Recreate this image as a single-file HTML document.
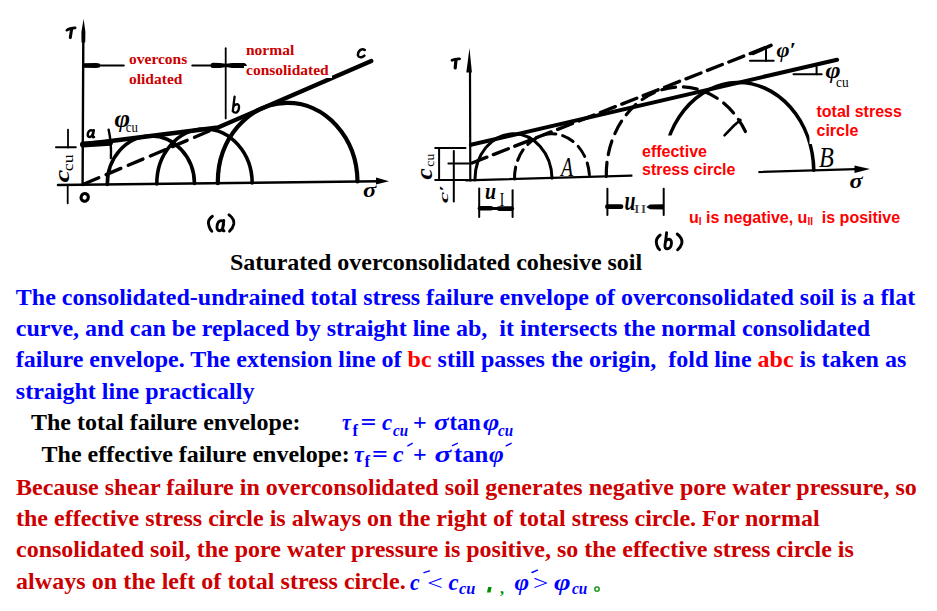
<!DOCTYPE html>
<html><head><meta charset="utf-8">
<style>
html,body{margin:0;padding:0;background:#fff;width:937px;height:611px;overflow:hidden}
svg{display:block}
text{white-space:pre}
.s{font-family:"Liberation Serif",serif;font-weight:bold;font-size:24px}
.b{fill:#0000ff}
.r{fill:#cc0000}
.k{fill:#000}
.rr{fill:#ff0000}
.lbl{font-family:"Liberation Sans",sans-serif;font-weight:bold;font-size:16px;fill:#ff0000}
.dr{font-family:"Liberation Serif",serif;font-weight:bold;font-size:15.5px;fill:#cc0000}
.i{font-style:italic}
</style></head><body>
<svg width="937" height="611" viewBox="0 0 937 611">
<!-- DIAGRAM A -->
<g id="diagA" fill="none" stroke="#000" stroke-linecap="round" stroke-linejoin="round">
  <!-- y axis -->
  <line x1="83.3" y1="40" x2="82.6" y2="185" stroke-width="2.4"/>
  <polygon points="83.6,18.8 81.4,32 81.5,42.5 85.2,42.5 85.4,32" fill="#000" stroke="none"/>
  <!-- sigma axis -->
  <line x1="58" y1="185" x2="380" y2="181.3" stroke-width="2.5"/>
  <polygon points="389,181.2 376,177.6 376,184.6" fill="#000" stroke="none"/>
  <!-- c_cu marker -->
  <line x1="68" y1="129.6" x2="68" y2="147.5" stroke-width="1.8"/>
  <line x1="56" y1="147.3" x2="75.8" y2="147.3" stroke-width="2"/>
  <line x1="67.7" y1="185" x2="67.7" y2="203.3" stroke-width="1.8"/>
  <!-- dimension line -->
  <line x1="83" y1="65.5" x2="123.7" y2="65.5" stroke-width="2.2"/>
  <polygon points="83,63.2 96,62.9 99.5,63.6 100.5,65.5 99.5,67.5 96,68.1 83,67.8" fill="#000" stroke="none"/>
  <line x1="192.3" y1="65.4" x2="245.7" y2="65.4" stroke-width="2"/>
  <polygon points="226,63.8 220,63 213,62.8 211,63.6 210.5,65.4 211,67.4 213,68.1 220,68 226,67" fill="#000" stroke="none"/>
  <polygon points="226,63.8 232,62.9 244.5,62.9 246.2,64.2 246.2,66.8 244.5,68 232,68 226,67" fill="#000" stroke="none"/>
  <line x1="225.7" y1="48.2" x2="225.7" y2="118.4" stroke-width="1.8"/>
  <!-- circles -->
  <path d="M107.3 184.5 A43.6 48 0 0 1 194.5 183.5" stroke-width="3.6"/>
  <path d="M156.8 184 A47.7 54.5 0 0 1 252.2 183" stroke-width="3.6"/>
  <path d="M217.8 183.2 A69.85 79.5 0 0 1 357.5 181.5" stroke-width="4.2"/>
  <!-- envelope ab, bc -->
  <path d="M83 144.5 L218 127.5 L371.3 61" stroke-width="4.3"/>
  <path d="M83 144.5 L110 142.8" stroke-width="6"/>
  <path d="M108.6 129.6 Q111.6 143 110.9 158" stroke-width="2.4"/>
  <!-- dashed extension -->
  <line x1="84" y1="184" x2="214" y2="129" stroke-width="3.4" stroke-dasharray="16 8"/>
</g>
<!-- DIAGRAM B -->
<g id="diagB" fill="none" stroke="#000" stroke-linecap="round" stroke-linejoin="round">
  <!-- y axis -->
  <line x1="470" y1="70" x2="470.3" y2="180.5" stroke-width="2.2"/>
  <polygon points="469.5,48 466.3,72.4 471.9,72.4" fill="#000" stroke="none"/>
  <!-- sigma axis -->
  <line x1="466" y1="180.4" x2="856" y2="169.2" stroke-width="2.2"/>
  <polygon points="870,168.9 854.5,165.5 854.5,173" fill="#000" stroke="none"/>
  <!-- c_cu marker -->
  <line x1="435.2" y1="147.9" x2="465.5" y2="147.9" stroke-width="2"/>
  <line x1="435.2" y1="180.1" x2="467.8" y2="180.1" stroke-width="2"/>
  <line x1="439.1" y1="147.9" x2="439.1" y2="180" stroke-width="2"/>
  <!-- c' marker -->
  <line x1="453.8" y1="151" x2="453.8" y2="201.5" stroke-width="2"/>
  <line x1="448.4" y1="163.4" x2="468.6" y2="163.4" stroke-width="2"/>
  <!-- u_I bracket -->
  <line x1="479.2" y1="188.5" x2="479.2" y2="217" stroke-width="2"/>
  <line x1="512.6" y1="190.2" x2="512.6" y2="217" stroke-width="2"/>
  <line x1="479.2" y1="208.5" x2="512.6" y2="208.5" stroke-width="3"/>
  <path d="M480 208.3 L491 208.3 M499 208.6 L511.5 208.6" stroke-width="4.6"/>
  <!-- u_II bracket -->
  <line x1="607.4" y1="188.8" x2="607.4" y2="215" stroke-width="2"/>
  <line x1="663.7" y1="188.8" x2="663.7" y2="215" stroke-width="2"/>
  <line x1="607.4" y1="206.7" x2="621" y2="206.7" stroke-width="4.8"/>
  <polygon points="646.3,206.9 650,204.6 663.7,204.3 663.7,209.4 650,209.2" fill="#000" stroke="none"/>
  <!-- small total circle A (solid) -->
  <path d="M475 180 A38.5 45.4 0 0 1 552 178.3" stroke-width="3"/>
  <!-- small effective circle (dashed) -->
  <path d="M514.5 179 A37.5 44.3 0 0 1 589.5 177.2" stroke-width="3" stroke-dasharray="12 7"/>
  <!-- large effective circle (dashed) -->
  <path d="M606.3 176.4 A74.3 87.4 0 0 1 754.9 172.1" stroke-width="3.2" stroke-dasharray="14 8"/>
  <!-- large total circle (solid) -->
  <path d="M663.2 174.7 A75.3 90 0 0 1 813.8 170.3" stroke-width="3.6"/>
  <!-- solid envelope -->
  <line x1="470.9" y1="144.8" x2="837.1" y2="59.7" stroke-width="4"/>
  <!-- dashed envelope -->
  <line x1="472" y1="163" x2="771" y2="45.4" stroke-width="3.4" stroke-dasharray="16 7"/>
  <line x1="753" y1="53.3" x2="771" y2="45.4" stroke-width="3.6"/>
  <!-- phi' marker -->
  <line x1="750" y1="60.7" x2="773.7" y2="60.7" stroke-width="2"/>
  <line x1="766" y1="48" x2="766" y2="60.7" stroke-width="2"/>
  <!-- phi_cu marker -->
  <line x1="793.5" y1="74.2" x2="821.7" y2="74.2" stroke-width="2"/>
  <line x1="816.6" y1="67.1" x2="816.6" y2="74.2" stroke-width="2"/>
</g>


<!-- diagram labels -->
<g id="labs" font-family="Liberation Serif" fill="#000">
  <g fill="none" stroke="#000" stroke-linecap="round"><path d="M66.8 30.2 Q69.5 28.2 75.2 27.9" stroke-width="2.6"/><path d="M71.6 29.2 Q71 33 70.3 37.4" stroke-width="3"/></g>
  <g fill="none" stroke="#000" stroke-linecap="round" stroke-width="2.5"><path d="M93.6 131 Q89.5 128.8 88 133 Q87 137.2 89.8 137 Q92.6 136.5 93.4 131.6 M93.8 130.2 L92.6 136.2 Q92.8 137.6 94 137"/></g>
  <text x="114.60" y="127.40" font-size="25.60" font-weight="bold" font-style="italic" transform="translate(114.60,127.40) scale(1.037,1) translate(-114.60,-127.40)">φ</text>
  <text x="125.80" y="132.30" font-size="14.26" font-weight="normal" font-style="normal" transform="translate(125.80,132.30) scale(0.897,1) translate(-125.80,-132.30)">cu</text>
  <g fill="none" stroke="#000" stroke-linecap="round" stroke-width="2.3"><path d="M234.6 96.6 Q233.6 104 232.8 111.2 Q234 113.2 236.8 112.4 Q239.4 110.6 239 106.2 Q238.4 103.4 235.4 104.6 Q233.8 105.4 233.3 107"/></g>
  <g fill="none" stroke="#000" stroke-linecap="round" stroke-width="2.5"><path d="M364.8 50 Q362.8 48.6 360.5 49.8 Q357.6 52 358 55.6 Q358.8 57.6 361.4 57.2 Q363.2 56.8 364.4 55.6"/></g>
  <ellipse cx="84.7" cy="197.4" rx="3.6" ry="3.9" fill="none" stroke="#000" stroke-width="3.1" transform="rotate(20 84.7 197.4)"/>
  <text x="363.00" y="197.50" font-size="21.51" font-weight="bold" font-style="italic" transform="translate(363.00,197.50) scale(1.147,1) translate(-363.00,-197.50)">σ</text>
  <g fill="none" stroke="#000" stroke-linecap="round" stroke-width="2.9"><path d="M212.4 216.3 Q206.8 220 209 226 Q210 229.5 211.8 231.2"/><path d="M229 214.8 Q234.6 219 233.8 224 Q232.8 228.5 229.6 231.2"/><path d="M223.6 221.2 Q219 219.3 217.3 224.5 Q216 230.5 219.6 230.8 Q222.5 230.5 223.6 224.5 M223.8 220.5 L222.6 229.2 Q222.6 231.2 224 230.8"/></g>
  <g fill="none" stroke="#000" stroke-linecap="round"><path d="M452 60.2 Q455 58.6 459.6 58.8" stroke-width="2.8"/><path d="M456 59.6 Q455.6 64 455.2 68" stroke-width="3.2"/></g>
  <text x="485.00" y="199.00" font-size="22.45" font-weight="bold" font-style="italic" transform="translate(485.00,199.00) scale(0.883,1) translate(-485.00,-199.00)">u</text>
  <text x="499.80" y="206.10" font-size="17.95" font-weight="normal" font-style="normal" transform="translate(499.80,206.10) scale(0.747,1) translate(-499.80,-206.10)">I</text>
  <text x="624.40" y="210.50" font-size="28.27" font-weight="bold" font-style="italic" transform="translate(624.40,210.50) scale(0.696,1) translate(-624.40,-210.50)">u</text>
  <text fill="#444" x="633.60" y="213.00" font-size="13.29" font-weight="normal" font-style="normal" transform="translate(633.60,213.00) scale(1.484,1) translate(-633.60,-213.00)">II</text>
  <text x="561.00" y="175.60" font-size="26.29" font-weight="normal" font-style="italic" transform="translate(561.00,175.60) scale(0.751,1) translate(-561.00,-175.60)">A</text>
  <text x="819.00" y="167.00" font-size="28.45" font-weight="normal" font-style="italic" transform="translate(819.00,167.00) scale(0.854,1) translate(-819.00,-167.00)">B</text>
  <text x="849.40" y="187.80" font-size="21.91" font-weight="bold" font-style="italic" transform="translate(849.40,187.80) scale(1.111,1) translate(-849.40,-187.80)">σ</text>
  <text x="776.40" y="56.70" font-size="21.42" font-weight="bold" font-style="italic" transform="translate(776.40,56.70) scale(1.042,1) translate(-776.40,-56.70)">φ′</text>
  <text x="825.60" y="78.40" font-size="22.80" font-weight="bold" font-style="italic" transform="translate(825.60,78.40) scale(1.136,1) translate(-825.60,-78.40)">φ</text>
  <text x="836.00" y="86.60" font-size="15.20" font-weight="normal" font-style="normal" transform="translate(836.00,86.60) scale(0.877,1) translate(-836.00,-86.60)">cu</text>
  <g fill="none" stroke="#000" stroke-linecap="round" stroke-width="2.9"><path d="M660.2 235 Q654.8 239 656.8 245 Q657.8 248.3 659.6 249.6"/><path d="M677.2 234 Q683 238.5 681.8 243.5 Q680.6 247.5 677.6 249.8"/><path d="M666.6 232.6 Q665.8 240 665 245 Q664.5 249 667.5 248.8 Q671.2 248.5 671.5 243 Q671.5 238.5 667.6 239.5 Q666 240.2 665.6 242"/></g>
  <text transform="translate(69.2,182.4) rotate(-90) scale(1,0.703)" font-size="28.72" font-weight="bold" font-style="italic">c</text>
  <text transform="translate(73.1,171.2) rotate(-90) scale(1,0.82)" font-size="17.84" font-weight="normal">cu</text>
  <text transform="translate(432.1,179.6) rotate(-90) scale(1,0.889)" font-size="25.19" font-weight="bold" font-style="italic">c</text>
  <text transform="translate(434.2,166.7) rotate(-90) scale(1,0.958)" font-size="13.72" font-weight="normal">cu</text>
  <text transform="translate(448.2,203.1) rotate(-90) scale(1,0.515)" font-size="25.0" font-weight="bold" font-style="italic">c′</text>
</g>
<!-- white boxes + red labels in diagrams -->
<rect x="632.4" y="135.5" width="126" height="47" fill="#fff"/>
<path d="M740.5 120 L734 125.5 L724.5 135.3" stroke="#000" stroke-width="2.6" fill="none" stroke-linecap="round"/>
<rect x="809.5" y="100" width="96" height="44" fill="#fff"/>
<rect x="244" y="66" width="88" height="12" fill="#fff"/>
<text class="dr" x="129" y="63.5">overcons</text>
<text class="dr" x="129" y="83.6">olidated</text>
<text class="dr" x="246" y="55.1">normal</text>
<text class="dr" x="246" y="74.9">consolidated</text>
<text class="lbl" x="642" y="156.6">effective</text>
<text class="lbl" x="642" y="175.2">stress circle</text>
<text class="lbl" x="816.5" y="117.3">total stress</text>
<text class="lbl" x="816.5" y="136.3">circle</text>
<text class="lbl" x="689" y="223.3">u<tspan font-size="10" dy="2">I</tspan><tspan dy="-2"> is negative, u</tspan><tspan font-size="10" dy="2">II</tspan><tspan dy="-2">  is positive</tspan></text>

<!-- caption -->
<text class="s k" x="230" y="270.4">Saturated overconsolidated cohesive soil</text>

<!-- blue paragraph -->
<text class="s b" x="15.8" y="304.5">The consolidated-undrained total stress failure envelope of overconsolidated soil is a flat</text>
<text class="s b" x="15.8" y="335.7">curve, and can be replaced by straight line ab,  it intersects the normal consolidated</text>
<text class="s b" x="15.8" y="367.2">failure envelope. The extension line of <tspan class="rr">bc</tspan> still passes the origin,  fold line <tspan class="rr">abc</tspan> is taken as</text>
<text class="s b" x="15.8" y="398.5">straight line practically</text>

<text class="s k" x="31" y="430.1">The total failure envelope:</text>
<text class="s k" x="41.6" y="462.1">The effective failure envelope:</text>

<!-- red paragraph -->
<text class="s r" x="16" y="494.6">Because shear failure in overconsolidated soil generates negative pore water pressure, so</text>
<text class="s r" x="16" y="526.1">the effective stress circle is always on the right of total stress circle. For normal</text>
<text class="s r" x="16" y="557.2">consolidated soil, the pore water pressure is positive, so the effective stress circle is</text>
<text class="s r" x="16" y="589.3" textLength="389.8" lengthAdjust="spacing">always on the left of total stress circle.</text>

<!-- formulas -->
<g font-family="Liberation Serif" fill="#0000ff">
  <text x="0" y="0" font-size="24" font-weight="bold" font-style="italic" transform="translate(342.00,430.4) scale(0.833,1)">τ</text>
  <text x="0" y="0" font-size="16" font-weight="bold" font-style="normal" transform="translate(352.50,435.5) scale(1.029,1)">f</text>
  <text x="0" y="0" font-size="24" font-weight="bold" font-style="normal" transform="translate(360.50,430.4) scale(1.160,1)">=</text>
  <text x="0" y="0" font-size="24" font-weight="bold" font-style="italic" transform="translate(382.00,430.4) scale(0.957,1)">c</text>
  <text x="0" y="0" font-size="16" font-weight="bold" font-style="italic" transform="translate(393.00,435.5) scale(0.938,1)">cu</text>
  <text x="0" y="0" font-size="24" font-weight="bold" font-style="normal" transform="translate(413.00,430.4) scale(1.000,1)">+</text>
  <text x="0" y="0" font-size="24" font-weight="bold" font-style="italic" transform="translate(434.00,430.4) scale(1.131,1)">σ</text>
  <text x="0" y="0" font-size="24" font-weight="bold" font-style="normal" transform="translate(449.50,430.4) scale(0.939,1)">tan</text>
  <text x="0" y="0" font-size="24" font-weight="bold" font-style="italic" transform="translate(483.00,430.4) scale(1.165,1)">φ</text>
  <text x="0" y="0" font-size="16" font-weight="bold" font-style="italic" transform="translate(498.00,435.5) scale(0.938,1)">cu</text>
  <text x="0" y="0" font-size="24" font-weight="bold" font-style="italic" transform="translate(354.00,461.9) scale(0.909,1)">τ</text>
  <text x="0" y="0" font-size="16" font-weight="bold" font-style="normal" transform="translate(364.50,467) scale(1.029,1)">f</text>
  <text x="0" y="0" font-size="24" font-weight="bold" font-style="normal" transform="translate(372.00,461.9) scale(1.163,1)">=</text>
  <text x="0" y="0" font-size="24" font-weight="bold" font-style="italic" transform="translate(393.00,461.9) scale(0.993,1)">c</text>
  <text x="0" y="0" font-size="24" font-weight="bold" font-style="normal" transform="translate(413.00,461.9) scale(1.000,1)">+</text>
  <text x="0" y="0" font-size="24" font-weight="bold" font-style="italic" transform="translate(434.50,461.9) scale(1.294,1)">σ</text>
  <text x="0" y="0" font-size="24" font-weight="bold" font-style="normal" transform="translate(454.00,461.9) scale(1.030,1)">tan</text>
  <text x="0" y="0" font-size="24" font-weight="bold" font-style="italic" transform="translate(489.00,461.9) scale(1.054,1)">φ</text>
  <text x="0" y="0" font-size="24" font-weight="bold" font-style="italic" transform="translate(410.00,589.5) scale(0.909,1)">c</text>
  <text x="0" y="0" font-size="22" font-weight="normal" font-style="normal" transform="translate(427.00,589.5) scale(1.280,1)">&lt;</text>
  <text x="0" y="0" font-size="24" font-weight="bold" font-style="italic" transform="translate(448.50,589.5) scale(0.946,1)">c</text>
  <text x="0" y="0" font-size="16" font-weight="bold" font-style="italic" transform="translate(459.00,594) scale(1.015,1)">cu</text>
  <text x="0" y="0" font-size="24" font-weight="bold" font-style="italic" transform="translate(514.50,589.5) scale(1.042,1)">φ</text>
  <text x="0" y="0" font-size="22" font-weight="normal" font-style="normal" transform="translate(533.00,589.5) scale(1.241,1)">&gt;</text>
  <text x="0" y="0" font-size="24" font-weight="bold" font-style="italic" transform="translate(554.00,589.5) scale(1.182,1)">φ</text>
  <text x="0" y="0" font-size="16" font-weight="bold" font-style="italic" transform="translate(572.00,594) scale(0.951,1)">cu</text>
</g>

<g stroke="#0000ff" stroke-width="1.4" stroke-linecap="round" fill="none">
  <path d="M407.8 445.8 L412.2 443.3"/>
  <path d="M452.4 445.6 L457.3 443.3"/>
  <path d="M506.2 445.8 L511.2 443.3"/>
  <path d="M424 572.6 L429.5 570.9"/>
  <path d="M532 572.5 L537.5 570.2"/>
</g>
<g fill="#008f00" font-family="Liberation Serif" font-weight="bold">
  <rect x="487.5" y="587" width="3.5" height="5.5" transform="skewX(-12)" transform-origin="489 590"/>
  <text x="500" y="594" font-size="16">,</text>
  <circle cx="597" cy="589" r="2.2" fill="none" stroke="#008f00" stroke-width="1.3"/>
</g>

</svg>
</body></html>
